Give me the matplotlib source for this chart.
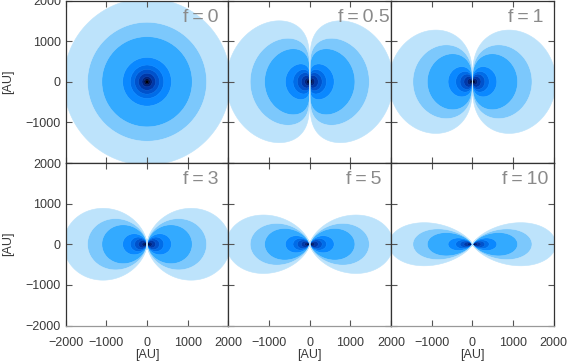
import numpy as np
import matplotlib
matplotlib.use("Agg")
import matplotlib.pyplot as plt

# ---- data ----
f_values = [0, 0.5, 1, 3, 5, 10]
f_labels = ["f=0", "f=0.5", "f=1", "f=3", "f=5", "f=10"]
density_index = 2.0                      # rho ~ r^-p * sin^f(theta)
# equatorial radii [AU] of the contour boundaries (inner -> outer)
contour_radii = [0, 40, 75, 125, 210, 305, 412, 600, 1111, 1465, 2050]
band_colors = ['#000000', '#000c40', '#00217a', '#0038a8', '#0052cc',
               '#006ce8', '#0a88ff', '#33aaff', '#7cc8fc', '#bde3fb']
xticks = [-2000, -1000, 0, 1000, 2000]
yticks = [-2000, -1000, 0, 1000, 2000]

W, H = 568, 362
fig = plt.figure(figsize=(W / 100, H / 100), dpi=100)
plt.rcParams['font.family'] = ['Liberation Sans', 'DejaVu Sans']

left_px, pw = 65.7, 162.7
tops_px = [0.5, 163.0]
ph = 162.5
label_x = [0.718, 0.671, 0.72, 0.718, 0.722, 0.681]

g = np.linspace(-2100, 2100, 901)
X, Y = np.meshgrid(g, g)
R = np.hypot(X, Y)
with np.errstate(divide='ignore', invalid='ignore'):
    sin_t = np.abs(X) / R

tick_col = '#3a3a3a'
for i, f in enumerate(f_values):
    row, col = divmod(i, 3)
    l = (left_px + col * pw) / W
    b = (H - tops_px[row] - ph) / H
    ax = fig.add_axes([l, b, pw / W, ph / H])
    with np.errstate(divide='ignore', invalid='ignore'):
        if f == 0:
            Req = R.copy()
        else:
            Req = R / sin_t ** (f / density_index)
    Req = np.nan_to_num(Req, nan=0.0, posinf=1e9)
    cs = ax.contourf(X, Y, Req, levels=contour_radii, colors=band_colors,
                     antialiased=True)
    cs.set_edgecolor('face')
    cs.set_linewidth(0.4)
    ax.set_xlim(-2000, 2000)
    ax.set_ylim(-2000, 2000)
    ax.set_xticks(xticks)
    ax.set_yticks(yticks)
    ax.tick_params(direction='in', length=4, width=0.8, top=True, right=True,
                   colors='#555555', labelcolor=tick_col, labelsize=9,
                   pad=3.5)
    ax.tick_params(axis='x', pad=8)
    for s in ax.spines.values():
        s.set_color('#333333')
        s.set_linewidth(0.9)
    if row == 1:
        ax.set_xticklabels([str(v).replace('-', '\u2212') for v in xticks])
        if col > 0:
            ax.set_xticklabels([''] + [str(v).replace('-', '\u2212') for v in xticks[1:]])
        ax.set_xlabel('[AU]', fontsize=9, color=tick_col, labelpad=0)
        ax.spines['bottom'].set_color('#999999')
    else:
        ax.set_xticklabels([])
    if col == 0:
        labs = [str(v).replace('-', '\u2212') for v in yticks]
        if row == 0:
            labs[0] = ''
        ax.set_yticklabels(labs)
        ax.set_ylabel('[AU]', fontsize=9, color=tick_col, labelpad=8)
    else:
        ax.set_yticklabels([])
    ax.text(label_x[i], 0.868, f_labels[i].replace('=', '\u2009=\u2009'),
            transform=ax.transAxes, fontsize=14, color='#8a8a8a',
            ha='left', va='baseline')

fig.savefig('out.png', dpi=100)
